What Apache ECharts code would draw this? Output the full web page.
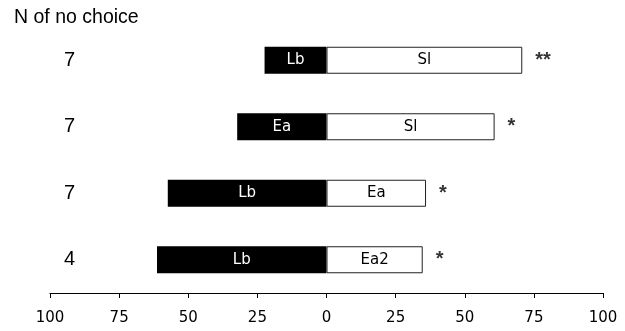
<!DOCTYPE html>
<html><head><meta charset="utf-8">
<script src="https://cdn.jsdelivr.net/npm/echarts@6/dist/echarts.min.js"></script>
<style>html,body{margin:0;padding:0;background:#fff}#c{width:625px;height:331px}</style>
</head><body><div id="c"></div>
<script>
var nNoChoice = ['7', '7', '7', '4'];
var leftNames = ['Lb', 'Ea', 'Lb', 'Lb'];
var rightNames = ['Sl', 'Sl', 'Ea', 'Ea2'];
var leftValues = [22.4, 32.3, 57.4, 61.3];
var rightValues = [70.8, 60.8, 36, 34.8];
var significance = ['**', '*', '*', '*'];
var xTicks = [-100, -75, -50, -25, 0, 25, 50, 75, 100];
var titleText = 'N of no choice';

var chart = echarts.init(document.getElementById('c'));
chart.setOption({
  animation: false,
  title: { text: titleText, left: 9, top: 3, textStyle: { fontFamily: 'Liberation Sans', fontSize: 19.5, fontWeight: 'normal', color: '#000' } },
  grid: { left: 50, right: 22, top: 27, bottom: 38 },
  xAxis: {
    type: 'value', min: xTicks[0], max: xTicks[xTicks.length - 1], interval: 25,
    axisLine: { show: true, lineStyle: { color: '#000', width: 1 } },
    axisTick: { show: true, length: 5, lineStyle: { color: '#000' } },
    splitLine: { show: false },
    axisLabel: { margin: 18, fontFamily: 'DejaVu Sans', fontSize: 15, color: '#000', formatter: function (v) { return String(Math.abs(v)); } }
  },
  yAxis: {
    type: 'category', inverse: true, data: nNoChoice,
    axisLine: { show: false }, axisTick: { show: false },
    axisLabel: { align: 'left', margin: -14, fontFamily: 'Liberation Sans', fontSize: 20, color: '#000' }
  },
  series: [
    {
      type: 'bar', barWidth: 27, barGap: '-100%',
      data: leftValues.map(function (v) { return -v; }),
      itemStyle: { color: '#000' },
      label: { show: true, position: 'inside', color: '#fff', fontFamily: 'DejaVu Sans', fontSize: 15,
        formatter: function (p) { return leftNames[p.dataIndex]; } }
    },
    {
      type: 'bar', barWidth: 27, barGap: '-100%',
      data: rightValues,
      itemStyle: { color: '#fff', borderColor: '#222', borderWidth: 1 },
      label: { show: true, position: 'inside', color: '#000', fontFamily: 'DejaVu Sans', fontSize: 15,
        formatter: function (p) { return rightNames[p.dataIndex]; } }
    },
    {
      type: 'scatter', symbolSize: 0,
      data: rightValues.map(function (v, i) { return [v, i]; }),
      label: { show: true, position: 'right', distance: 13, color: '#000', fontFamily: 'Liberation Sans', fontWeight: 'bold', fontSize: 20,
        formatter: function (p) { return significance[p.dataIndex]; } }
    }
  ]
});
</script></body></html>
